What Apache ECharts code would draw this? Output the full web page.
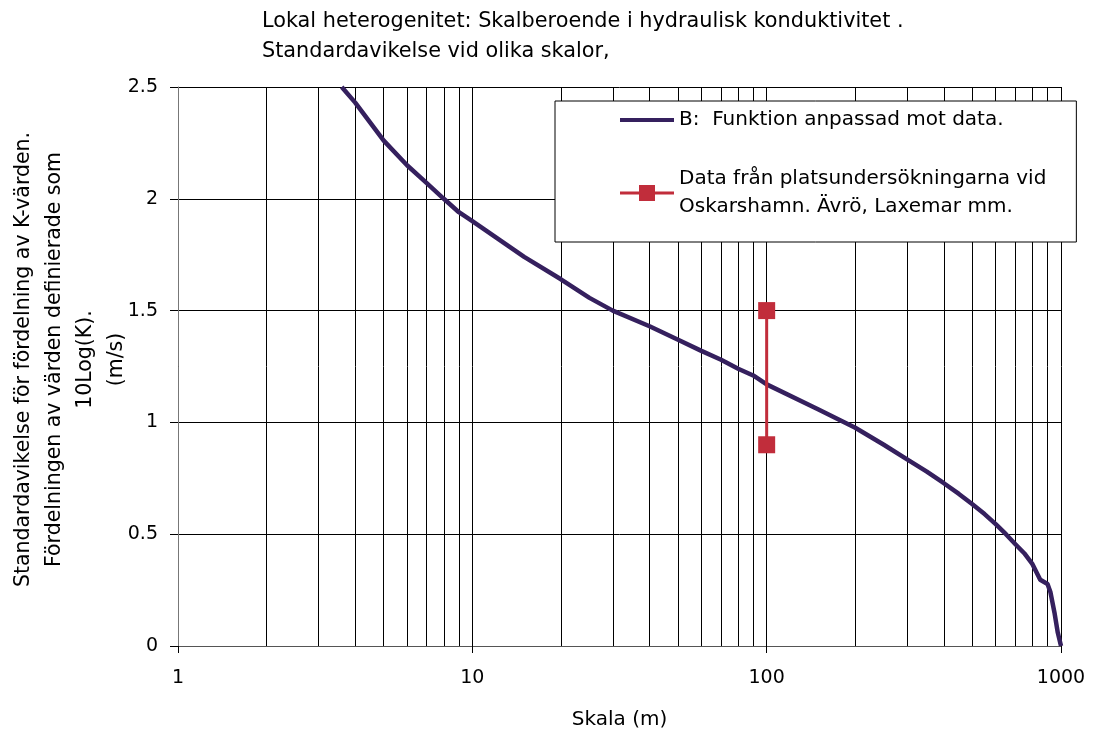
<!DOCTYPE html>
<html>
<head>
<meta charset="utf-8">
<script src="https://cdn.jsdelivr.net/npm/echarts@6/dist/echarts.min.js"></script>
<style>html,body{margin:0;padding:0;background:#fff}#c{width:1093px;height:735px}</style>
</head>
<body>
<div id="c"></div>
<script>
// ---- data ----
const titleLines = ['Lokal heterogenitet: Skalberoende i hydraulisk konduktivitet .', 'Standardavikelse vid olika skalor,'];
const yAxisNameLines = ['Standardavikelse för fördelning av K-värden.', 'Fördelningen av värden definierade som', '10Log(K).', '(m/s)'];
const xAxisName = 'Skala (m)';
const seriesNames = ['B:  Funktion anpassad mot data.', 'Data från platsundersökningarna vid\nOskarshamn. Ävrö, Laxemar mm.'];
const curveX = [3.6, 4, 5, 6, 7, 8, 9, 10, 15, 20, 25, 30, 40, 50, 60, 70, 80, 90, 100, 150, 200, 250, 300, 350, 400, 450, 500, 550, 600, 650, 700, 750, 800, 850, 900, 921, 950, 975, 1000];
const curveY = [2.5, 2.43, 2.26, 2.15, 2.07, 2.0, 1.94, 1.90, 1.74, 1.64, 1.557, 1.50, 1.43, 1.37, 1.32, 1.28, 1.24, 1.21, 1.17, 1.058, 0.976, 0.90, 0.835, 0.78, 0.728, 0.68, 0.634, 0.59, 0.545, 0.50, 0.455, 0.415, 0.366, 0.296, 0.277, 0.24, 0.15, 0.06, 0];
const dataX = [100, 100];
const dataY = [1.5, 0.9];
const minorGridX = [2, 3, 4, 5, 6, 7, 8, 9, 20, 30, 40, 50, 60, 70, 80, 90, 200, 300, 400, 500, 600, 700, 800, 900];

const FONT = 'DejaVu Sans';
const chart = echarts.init(document.getElementById('c'), null, {renderer: 'canvas'});
chart.setOption({
  animation: false,
  backgroundColor: '#fff',
  textStyle: {fontFamily: FONT, color: '#000'},
  title: {
    text: titleLines.join('\n'),
    left: 262, top: 7, padding: 0,
    textStyle: {fontFamily: FONT, fontSize: 20.8, fontWeight: 'normal', color: '#000', lineHeight: 30}
  },
  grid: {left: 177, right: 32, top: 87, bottom: 88, containLabel: false},
  legend: {
    orient: 'vertical',
    left: 555, top: 101,
    padding: [5, 30, 7, 63],
    itemGap: 17,
    itemWidth: 54, itemHeight: 20,
    backgroundColor: '#fff',
    borderColor: '#000', borderWidth: 1,
    textStyle: {fontFamily: FONT, fontSize: 20, color: '#000', lineHeight: 28},
    data: [
      {name: seriesNames[0], itemStyle: {opacity: 0}, lineStyle: {width: 4}},
      {name: seriesNames[1], lineStyle: {width: 3}, textStyle: {padding: [28, 0, 0, 0]}}
    ]
  },
  xAxis: {
    type: 'log', logBase: 10, min: 1, max: 1000,
    name: xAxisName, nameLocation: 'middle', nameGap: 64,
    nameMoveOverlap: false,
    nameTextStyle: {fontFamily: FONT, fontSize: 20, color: '#000'},
    axisLine: {show: true, lineStyle: {color: '#555', width: 1}},
    axisTick: {show: true, length: 7, inside: false, lineStyle: {color: '#000'}},
    axisLabel: {fontFamily: FONT, fontSize: 19, color: '#000', margin: 23, formatter: v => String(v)},
    splitLine: {show: true, lineStyle: {color: '#000', width: 1}},
    minorTick: {show: false}, minorSplitLine: {show: false}
  },
  yAxis: {
    type: 'value', min: 0, max: 2.5, interval: 0.5,
    name: yAxisNameLines.join('\n'), nameLocation: 'middle', nameGap: 46, nameRotate: 90,
    nameMoveOverlap: false,
    nameTextStyle: {fontFamily: FONT, fontSize: 20.5, color: '#000', lineHeight: 31, align: 'center', padding: [0, 0, 0, 14]},
    axisLine: {show: true, lineStyle: {color: '#777', width: 1}},
    axisTick: {show: true, length: 8, inside: false, lineStyle: {color: '#000'}},
    axisLabel: {fontFamily: FONT, fontSize: 19, color: '#000', margin: 20},
    splitLine: {show: true, lineStyle: {color: '#000', width: 1}}
  },
  series: [
    {
      name: seriesNames[0],
      type: 'line',
      data: curveX.map((x, i) => [x, curveY[i]]),
      showSymbol: false, symbol: 'none',
      smooth: false,
      lineStyle: {color: '#35205E', width: 4.5},
      itemStyle: {color: '#35205E'},
      z: 3,
      markLine: {
        silent: true, z: 1,
        symbol: ['none', 'none'],
        label: {show: false},
        lineStyle: {color: '#000', width: 1, type: 'solid'},
        emphasis: {disabled: true},
        data: minorGridX.map(v => ({xAxis: v}))
      }
    },
    {
      name: seriesNames[1],
      type: 'line',
      data: dataX.map((x, i) => [x, dataY[i]]),
      symbol: 'rect', symbolSize: 17,
      showSymbol: true,
      lineStyle: {color: '#C12D3B', width: 3},
      itemStyle: {color: '#C12D3B'},
      z: 4
    }
  ]
});
</script>
</body>
</html>
